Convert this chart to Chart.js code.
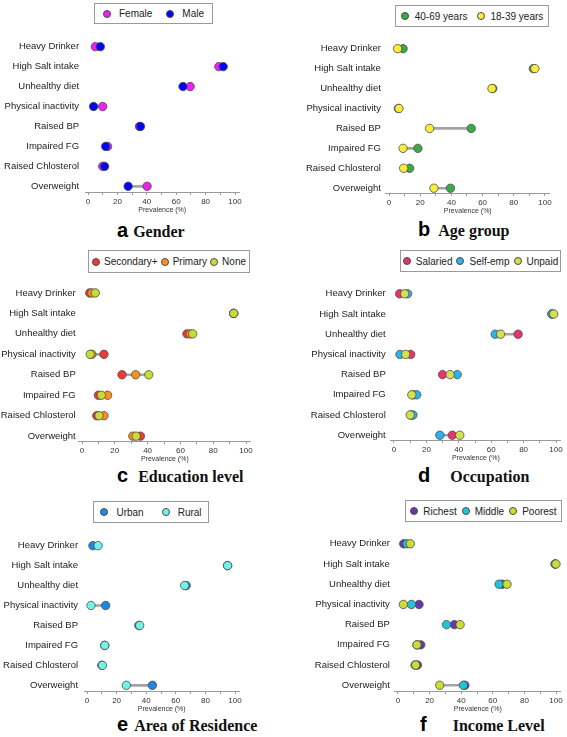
<!DOCTYPE html>
<html>
<head>
<meta charset="utf-8">
<script src="https://cdn.jsdelivr.net/npm/chart.js@4.4.1/dist/chart.umd.min.js"></script>
<style>
    html, body { margin: 0; padding: 0; background: #fff; }
    #page { position: relative; width: 567px; height: 737px; overflow: hidden; font-family: 'Liberation Sans', Arial, sans-serif; }
    .panel-canvas { position: absolute; }
    .legend { position: absolute; box-sizing: border-box; border: 1px solid #9a9a9a; display: flex; align-items: center; justify-content: center; font-size: 10px; color: #222; white-space: nowrap; }
    .leg-item { display: flex; align-items: center; }
    .leg-dot { width: 8px; height: 8px; border-radius: 50%; box-sizing: border-box; border: 1px solid #4a4a4a; }
    .caption { position: absolute; display: flex; align-items: baseline; height: 24px; line-height: 24px; white-space: nowrap; }
    .caption .letter { font: bold 20px 'Liberation Sans', Arial, sans-serif; color: #000; }
    .caption .word { font: bold 16px 'Liberation Serif', 'Times New Roman', serif; color: #111; }
</style>
</head>
<body>
<div id="page"></div>
<script>
// --- Data ---
const categories = ['Heavy Drinker', 'High Salt intake', 'Unhealthy diet', 'Physical inactivity',
    'Raised BP', 'Impaired FG', 'Raised Chlosterol', 'Overweight'];

const genderNames = ['Female', 'Male'];
const genderColors = ['#f020f0', '#0505f5'];
const genderFemale = [5, 89, 69.5, 10, 35, 13.3, 10, 40.2];
const genderMale = [8.4, 92, 64.6, 3.8, 35.7, 12, 11.3, 27.3];

const ageNames = ['40-69 years', '18-39 years'];
const ageColors = ['#3daa48', '#fcec3a'];
const age40to69 = [9, 92.5, 66.5, 6, 52.7, 18.5, 13.2, 39.4];
const age18to39 = [5.5, 93.5, 66, 6.4, 26, 9, 9.4, 28.8];

const eduNames = ['Secondary+', 'Primary', 'None'];
const eduColors = ['#ee3a36', '#ff8f1c', '#c8dc34'];
const eduSecondary = [4.7, 92.5, 64, 13.4, 24.4, 10, 9, 35.6];
const eduPrimary = [6, 92.5, 66, 6, 32.7, 15.6, 13.4, 31];
const eduNone = [8.1, 92.5, 67.5, 5, 40.7, 11.8, 10.4, 33];

const occNames = ['Salaried', 'Self-emp', 'Unpaid'];
const occColors = ['#e8346c', '#2cb3ef', '#d4e04c'];
const occSalaried = [3.5, 97.5, 76.6, 10.3, 30, 12, 10.5, 36];
const occSelfEmp = [8.4, 97.5, 62.5, 3.7, 39, 14, 11.7, 28.3];
const occUnpaid = [6.6, 98.6, 65.8, 7.2, 34.6, 11, 10, 40.6];

const areaNames = ['Urban', 'Rural'];
const areaColors = ['#1e88e5', '#72f3ea'];
const areaUrban = [4, 95, 67, 12.6, 35, 12, 10, 44.2];
const areaRural = [7.5, 95, 66, 2.7, 35.6, 12, 10.4, 26.6];

const incNames = ['Richest', 'Middle', 'Poorest'];
const incColors = ['#6936b0', '#20c4d8', '#cddc30'];
const incRichest = [3.6, 99.5, 66, 13.3, 35.7, 14.4, 12.3, 42.3];
const incMiddle = [5.7, 99.5, 64, 8.5, 30.7, 12, 10.8, 41.4];
const incPoorest = [7.8, 100, 69, 3.4, 39.3, 12, 11.2, 26.4];

const xTicks = [0, 10, 20, 30, 40, 50, 60, 70, 80, 90, 100];
const X_MIN = -2;
const X_MAX = 103;

// --- Layout (page pixels) ---
const panels = [
    { letter: 'a', title: 'Gender', names: genderNames, colors: genderColors, series: [genderFemale, genderMale],
      left: 0, width: 283, x0: 88, x100: 235, y1: 39, y8: 186, axisY: 192, labelPad: 6,
      legend: { left: 94, top: 3, width: 119, height: 21, gap: 14, dotGap: 8 }, caption: { left: 117, baseline: 238, gap: 5 } },
    { letter: 'b', title: 'Age group', names: ageNames, colors: ageColors, series: [age40to69, age18to39],
      left: 283, width: 284, x0: 389, x100: 545, y1: 42, y8: 188, axisY: 193, labelPad: 5,
      legend: { left: 395, top: 5, width: 154, height: 22, gap: 9, dotGap: 6 }, caption: { left: 418, baseline: 237, gap: 8 } },
    { letter: 'c', title: 'Education level', names: eduNames, colors: eduColors, series: [eduSecondary, eduPrimary, eduNone],
      left: 0, width: 283, x0: 82, x100: 246, y1: 288, y8: 436, axisY: 441, labelPad: 3,
      legend: { left: 88, top: 250, width: 162, height: 23, gap: 3, dotGap: 4 }, caption: { left: 117, baseline: 483, gap: 10 } },
    { letter: 'd', title: 'Occupation', names: occNames, colors: occColors, series: [occSalaried, occSelfEmp, occUnpaid],
      left: 283, width: 284, x0: 394, x100: 556, y1: 287, y8: 435, axisY: 440, labelPad: 5,
      legend: { left: 400, top: 250, width: 161, height: 22, gap: 4, dotGap: 5 }, caption: { left: 418, baseline: 483, gap: 20 } },
    { letter: 'e', title: 'Area of Residence', names: areaNames, colors: areaColors, series: [areaUrban, areaRural],
      left: 0, width: 283, x0: 87, x100: 235, y1: 538, y8: 685, axisY: 691, labelPad: 6,
      legend: { left: 93, top: 501, width: 116, height: 22, gap: 18, dotGap: 8 }, caption: { left: 117, baseline: 732, gap: 6 } },
    { letter: 'f', title: 'Income Level', names: incNames, colors: incColors, series: [incRichest, incMiddle, incPoorest],
      left: 283, width: 284, x0: 398, x100: 556, y1: 537, y8: 685, axisY: 691, labelPad: 5,
      legend: { left: 405, top: 500, width: 157, height: 22, gap: 5, dotGap: 5 }, caption: { left: 420, baseline: 732, gap: 26 } },
];

Chart.defaults.font.family = "'Liberation Sans', Arial, sans-serif";

function buildLegend(page, p) {
    const el = document.createElement('div');
    el.className = 'legend';
    Object.assign(el.style, {
        left: p.legend.left + 'px', top: p.legend.top + 'px',
        width: p.legend.width + 'px', height: p.legend.height + 'px', gap: p.legend.gap + 'px',
    });
    el.innerHTML = p.names.map((n, j) =>
        `<span class="leg-item"><span class="leg-dot" style="background:${p.colors[j]};margin-right:${p.legend.dotGap}px"></span>${n}</span>`).join('');
    page.appendChild(el);
}

function buildCaption(page, p) {
    const el = document.createElement('div');
    el.className = 'caption';
    el.style.left = p.caption.left + 'px';
    el.style.top = (p.caption.baseline - 18.6) + 'px';
    el.innerHTML = `<span class="letter">${p.letter}</span><span class="word" style="margin-left:${p.caption.gap}px">${p.title}</span>`;
    page.appendChild(el);
}

function buildChart(page, p) {
    const s = (p.x100 - p.x0) / 100;
    const d = (p.y8 - p.y1) / 7;
    const top = p.y1 - 14;
    const height = p.axisY + 22 - top;
    const areaLeft = p.x0 + X_MIN * s - p.left;
    const areaRight = p.x100 + (X_MAX - 100) * s - p.left;

    const canvas = document.createElement('canvas');
    canvas.className = 'panel-canvas';
    canvas.width = p.width;
    canvas.height = height;
    canvas.style.left = p.left + 'px';
    canvas.style.top = top + 'px';
    page.appendChild(canvas);

    // grey connector spanning the lowest to the highest group per category
    const ranges = categories.map((c, i) => {
        const vals = p.series.map((sr) => sr[i]);
        return { x: [Math.min(...vals), Math.max(...vals)], y: i };
    });

    const datasets = p.series.map((vals, j) => ({
        type: 'line',
        label: p.names[j],
        data: vals.map((v, i) => ({ x: v, y: i })),
        showLine: false,
        pointRadius: 4.2,
        pointBackgroundColor: p.colors[j],
        pointBorderColor: '#4a4a4a',
        pointBorderWidth: 0.8,
        order: p.series.length - j, // later groups sit on top
        clip: false,
    }));
    datasets.push({
        type: 'bar',
        label: 'range',
        data: ranges,
        backgroundColor: '#a3a3a3',
        barThickness: 2,
        order: 99,
    });

    new Chart(canvas, {
        type: 'bar',
        data: { datasets },
        options: {
            indexAxis: 'y',
            responsive: false,
            animation: false,
            events: [],
            layout: { padding: { left: 0, top: (p.y1 - 0.5 * d) - top, right: p.width - areaRight, bottom: 0 } },
            plugins: { legend: { display: false }, tooltip: { enabled: false } },
            scales: {
                x: {
                    type: 'linear',
                    min: X_MIN,
                    max: X_MAX,
                    afterBuildTicks: (sc) => { sc.ticks = xTicks.map((v) => ({ value: v })); },
                    afterFit: (sc) => { sc.height = 22; },
                    ticks: {
                        autoSkip: false, maxRotation: 0, padding: 2, color: '#333', font: { size: 8 },
                        callback: (v) => (v % 20 === 0 ? String(v) : ''),
                    },
                    grid: { drawOnChartArea: false, drawTicks: true, tickLength: 3, color: '#9a9a9a' },
                    border: { display: true, color: '#9a9a9a' },
                    title: { display: true, text: 'Prevalence (%)', color: '#333', font: { size: 7 }, padding: 0 },
                },
                y: {
                    type: 'linear',
                    reverse: true,
                    min: -0.5,
                    max: 7 + (p.axisY - p.y8) / d,
                    offset: false,
                    afterBuildTicks: (sc) => { sc.ticks = categories.map((c, i) => ({ value: i })); },
                    afterFit: (sc) => { sc.width = areaLeft; },
                    ticks: { autoSkip: false, padding: p.labelPad, color: '#222', font: { size: 9.5 }, callback: (v) => categories[v] },
                    grid: { display: false, drawTicks: false, offset: false },
                    border: { display: false },
                },
            },
        },
    });
}

const page = document.getElementById('page');
for (const p of panels) {
    buildChart(page, p);
    buildLegend(page, p);
    buildCaption(page, p);
}
</script>
</body>
</html>
